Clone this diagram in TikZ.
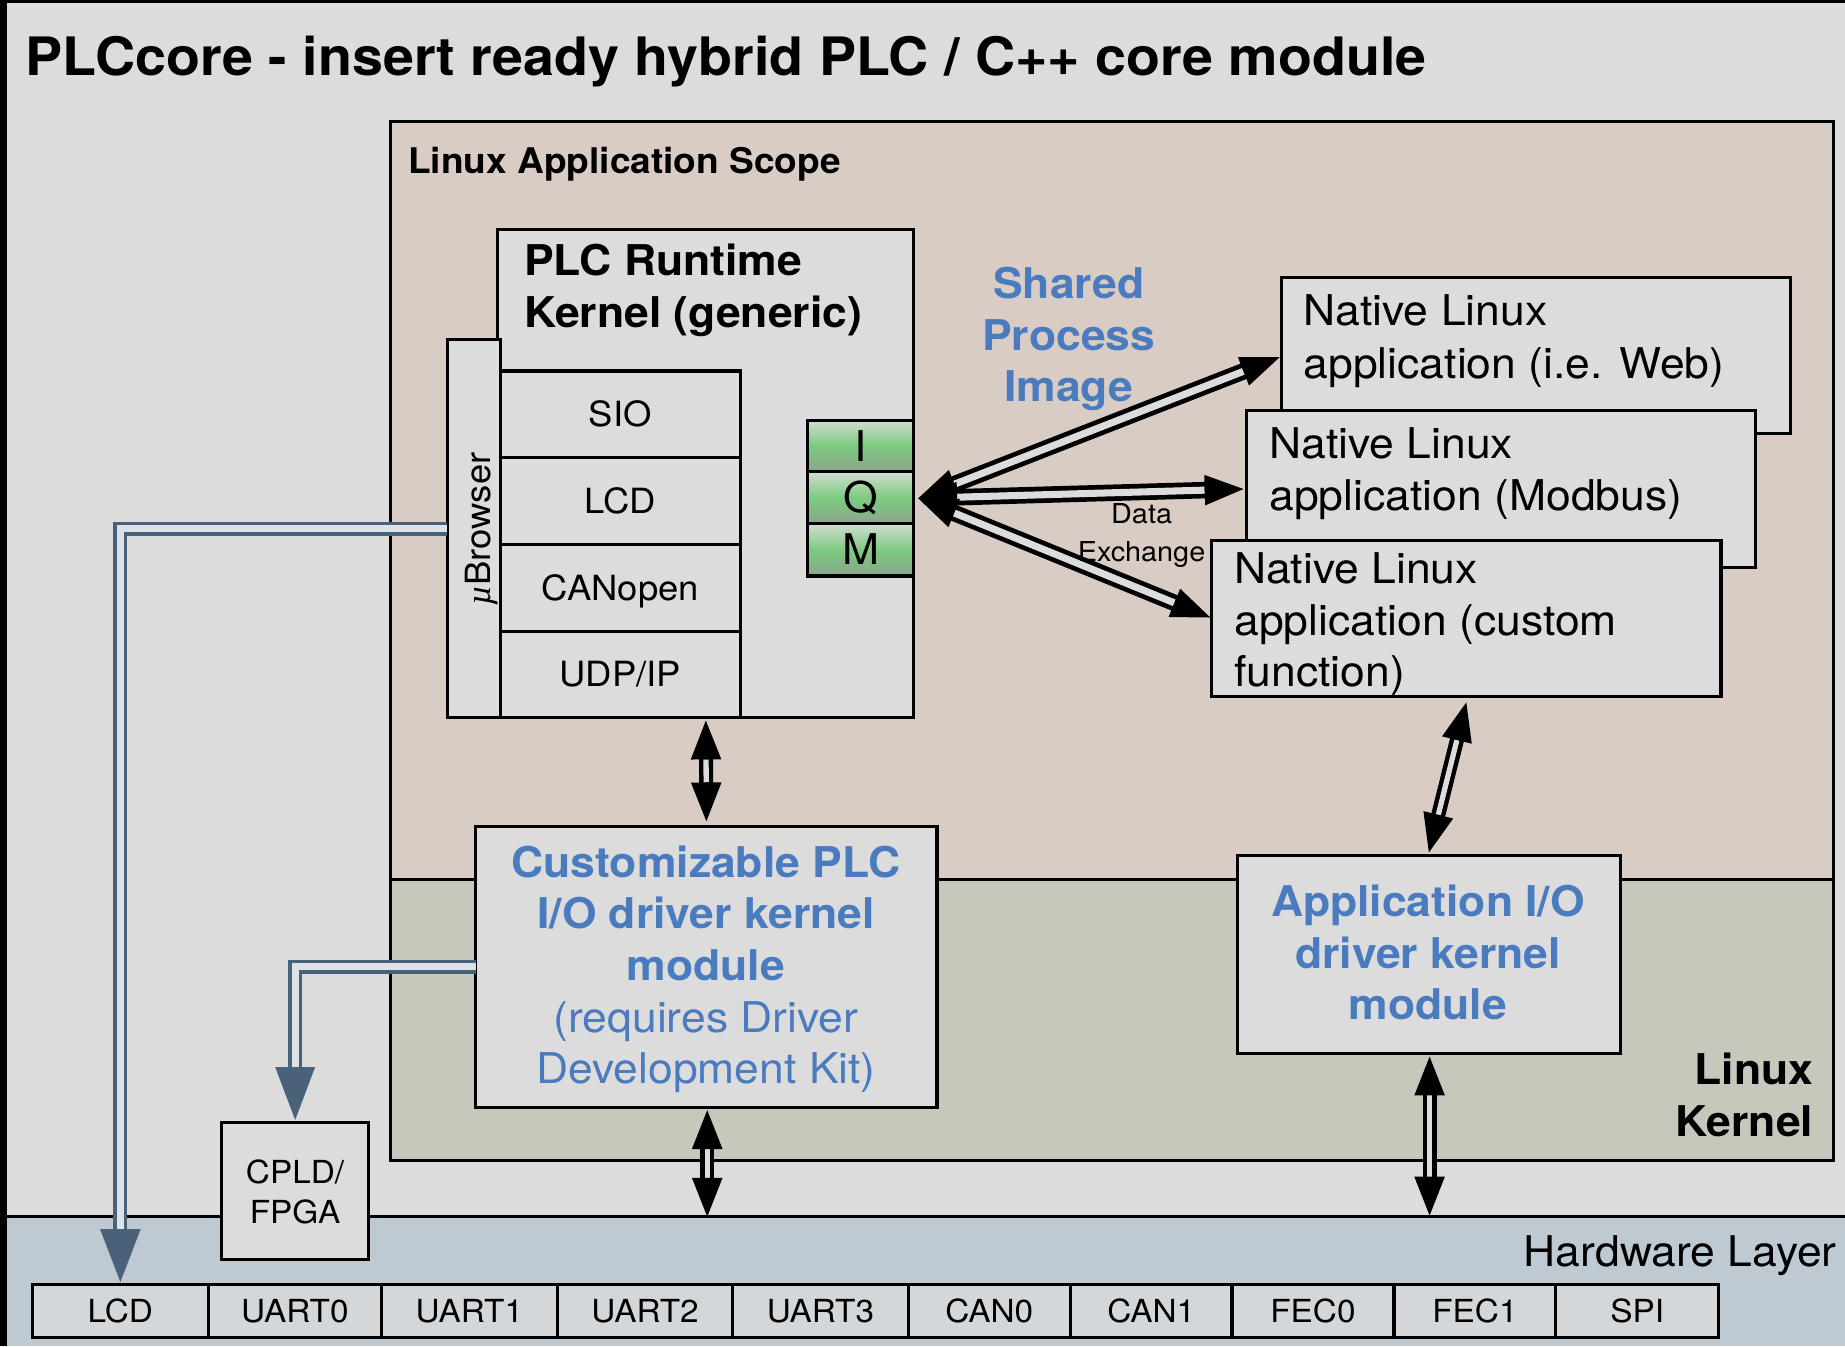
\documentclass[tikz,border=0pt]{standalone}
\usepackage{fontspec}
\setmainfont{TeX Gyre Heros}[FakeStretch=1.05]
\newfontfamily\lserif{Liberation Serif}
\usetikzlibrary{calc}
\definecolor{bgray}{HTML}{DCDCDC}
\definecolor{scopec}{HTML}{D9CCC4}
\definecolor{kernc}{HTML}{C6C8BB}
\definecolor{hwc}{HTML}{BEC9D2}
\definecolor{hwbox}{HTML}{D3D7DA}
\definecolor{blu}{RGB}{75,123,191}
\definecolor{steel}{HTML}{4A6279}
\definecolor{steellight}{HTML}{DCE2E7}
\definecolor{gtop}{HTML}{D2DDD2}
\definecolor{gmid}{HTML}{7CCB80}
\definecolor{gbot}{HTML}{8AA68B}
\definecolor{shaftlight}{HTML}{DCDCDC}
\newcommand{\fs}[1]{\fontsize{#1}{#1}\selectfont}
\tikzset{
  box/.style={draw=black, line width=2.6pt, fill=bgray, inner sep=0pt, outer sep=0pt},
  txt/.style={inner sep=0pt, outer sep=0pt},
  big/.style={txt, font=\fs{36}},
  bigb/.style={txt, font=\fs{36}\bfseries},
  blue/.style={text=blu},
  lbl31/.style={font=\fs{29.5}, text height=21.2pt, text depth=0pt},
  lbl28/.style={font=\fs{27}, text height=19.4pt, text depth=0pt},
  iqm/.style={top color=gtop, bottom color=gbot, middle color=gmid, font=\fs{36}, text height=25.9pt, text depth=0pt},
}
\newcommand{\rbox}[7][]{\node[box,minimum width={#4-#2},minimum height={#5-#3},#1] (#6) at ({(#2+#4)/2},{(#3+#5)/2}) {#7};}
\newcommand{\atip}[5]{\fill[#5] (#1) -- ($(#1)!#3!(#2)!#4!90:(#1)$) -- ($(#1)!#3!(#2)!#4!-90:(#1)$) -- cycle;}
\newcommand{\dblarr}[6]{%
  \draw[line width=#3, black, shorten <=22pt, shorten >=22pt] (#1) -- (#2);
  \draw[line width=#4, shaftlight, shorten <=#5, shorten >=#5] (#1) -- (#2);
  \atip{#1}{#2}{#5}{#6}{black}
  \atip{#2}{#1}{#5}{#6}{black}}
\begin{document}
\begin{tikzpicture}[x=1pt,y=-1pt]
\useasboundingbox (0,0) rectangle (1568,1144);
\fill[black] (0,0) rectangle (1568,1144);
\fill[bgray] (6.2,2.8) rectangle (1568,1144);
% hardware band
\node[fill=hwc, inner sep=0pt, outer sep=0pt, minimum width=1561.8pt, minimum height=110pt] (hw) at (787.1,1089) {};
\draw[line width=2.6pt] (hw.north west) -- (hw.north east);
% layers
\rbox[fill=scopec]{331.5}{103.4}{1558}{747.2}{scope}{}
\rbox[fill=kernc]{331.5}{747.2}{1558}{986.4}{kern}{}
% title & layer labels
\node[txt, anchor=base west, font=\fs{45}\bfseries] (title) at (22,64.5) {PLCcore - insert ready hybrid PLC / C++ core module};
\node[txt, anchor=base west, font=\fs{30}\bfseries] (scopelbl) at (347,147.5) {Linux Application Scope};
\node[bigb, anchor=base east] (lk1) at (1541,921.6) {Linux};
\node[bigb, anchor=base east] (lk2) at (1541,966.1) {Kernel};
\node[big, anchor=base east] (hwl) at (1561,1076.5) {Hardware Layer};
% bottom row
\rbox[fill=hwbox,lbl28]{27.6}{1091.5}{177}{1136.5}{lcdb}{LCD}
\rbox[fill=hwbox,lbl28]{177}{1091.5}{324.2}{1136.5}{u0}{UART0}
\rbox[fill=hwbox,lbl28]{324.2}{1091.5}{473.6}{1136.5}{u1}{UART1}
\rbox[fill=hwbox,lbl28]{473.6}{1091.5}{622.9}{1136.5}{u2}{UART2}
\rbox[fill=hwbox,lbl28]{622.9}{1091.5}{771.7}{1136.5}{u3}{UART3}
\rbox[fill=hwbox,lbl28]{771.7}{1091.5}{909.8}{1136.5}{c0}{CAN0}
\rbox[fill=hwbox,lbl28]{909.8}{1091.5}{1047}{1136.5}{c1}{CAN1}
\rbox[fill=hwbox,lbl28]{1047}{1091.5}{1184.7}{1136.5}{f0}{FEC0}
\rbox[fill=hwbox,lbl28]{1184.7}{1091.5}{1322.3}{1136.5}{f1}{FEC1}
\rbox[fill=hwbox,lbl28]{1322.3}{1091.5}{1460.5}{1136.5}{spi}{SPI}
% CPLD
\rbox{188.4}{953.8}{313.3}{1070}{cpld}{}
\node[txt, anchor=base, font=\fs{27}] (cp1) at (250.8,1006.2) {CPLD/};
\node[txt, anchor=base, font=\fs{27}] (cp2) at (250.8,1039.6) {FPGA};
% PLC runtime
\rbox{423}{195}{776.7}{609.9}{plc}{}
\node[bigb, anchor=base west] (pr1) at (445.4,234) {PLC Runtime};
\node[bigb, anchor=base west] (pr2) at (445.4,278.5) {Kernel (generic)};
\rbox{380}{288.8}{425}{609.9}{ub}{}
\node[txt, rotate=90, anchor=base, font=\fs{29.5}] (ubl) at (416.5,449.5) {{\lserif\itshape µ}Browser};
\rbox[lbl31]{425}{315.3}{629.4}{389}{sio}{SIO}
\rbox[lbl31]{425}{389}{629.4}{463}{lcdm}{LCD}
\rbox[lbl31]{425}{463}{629.4}{536.5}{cano}{CANopen}
\rbox[lbl31]{425}{536.5}{629.4}{609.9}{udp}{UDP/IP}
\rbox[iqm]{686.5}{357}{776.7}{400.8}{iI}{I}
\rbox[iqm]{686.5}{400.8}{776.7}{444.8}{iQ}{Q}
\rbox[iqm]{686.5}{444.8}{776.7}{489.5}{iM}{M}
% shared process image
\node[bigb, blue, anchor=base] (sp1) at (908.3,253.6) {Shared};
\node[bigb, blue, anchor=base] (sp2) at (908.3,297.6) {Process};
\node[bigb, blue, anchor=base] (sp3) at (908.3,341.6) {Image};
% native apps
\rbox{1089}{236}{1522}{368.7}{web}{}
\node[big, anchor=base west] (w1) at (1108,277) {Native Linux};
\node[big, anchor=base west] (w2) at (1108,322) {application (i.e. Web)};
\rbox{1059.4}{348.5}{1492.3}{481.9}{mod}{}
\node[big, anchor=base west] (m1) at (1078.9,389.4) {Native Linux};
\node[big, anchor=base west] (m2) at (1078.9,433.9) {application (Modbus)};
\rbox{1029.7}{459.3}{1462.6}{591.9}{cus}{}
\node[big, anchor=base west] (cu1) at (1049,496.3) {Native Linux};
\node[big, anchor=base west] (cu2) at (1049,540.4) {application (custom};
\node[big, anchor=base west] (cu3) at (1049,583.3) {function)};
% steel arrows
\coordinate (lcdtip) at ($(lcdb.north)+(0,-2)$);
\coordinate (lcdup) at ($(lcdtip)+(0,-100)$);
\draw[steel, line width=3pt, double=steellight, double distance=6pt, shorten >=40pt] (ub.west) -| (lcdtip);
\atip{lcdtip}{lcdup}{45pt}{17.3pt}{steel}
% kernel modules
\rbox{404.4}{702}{796.3}{941.5}{cust}{}
\node[bigb, blue, anchor=base] (k1) at (600,745.4) {Customizable PLC};
\node[bigb, blue, anchor=base] (k2) at (600,789.2) {I/O driver kernel};
\node[bigb, blue, anchor=base] (k3) at (600,832.9) {module};
\node[big, blue, anchor=base] (k4) at (600,877.8) {(requires Driver};
\node[big, blue, anchor=base] (k5) at (600,920.4) {Development Kit)};
\coordinate (cpldtip) at ($(cpld.north)+(0,-2)$);
\coordinate (cpldup) at ($(cpldtip)+(0,-100)$);
\draw[steel, line width=3pt, double=steellight, double distance=6pt, shorten >=40pt] (cust.west) -| (cpldtip);
\atip{cpldtip}{cpldup}{45pt}{17pt}{steel}
\rbox{1051.7}{726.9}{1377}{895}{aio}{}
\node[bigb, blue, anchor=base] (a1t) at (1213.6,778.7) {Application I/O};
\node[bigb, blue, anchor=base] (a2t) at (1213.6,823.2) {driver kernel};
\node[bigb, blue, anchor=base] (a3t) at (1213.6,866.3) {module};
% data exchange arrows
\coordinate (dx) at ($(iQ.east)+(3.7,0.7)$);
\coordinate (webtip) at ($(web.west)+(-1.5,1.2)$);
\coordinate (modtip) at ($(mod.west)+(-2.6,0.4)$);
\coordinate (custip) at ($(cus.west)+(-1.1,-0.8)$);
\dblarr{dx}{webtip}{14pt}{6pt}{33pt}{13pt}
\dblarr{dx}{modtip}{14pt}{6pt}{33pt}{13pt}
\dblarr{dx}{custip}{14pt}{6pt}{33pt}{13pt}
\node[txt, anchor=base, font=\fs{23.3}] (de1) at (970.2,444.7) {Data};
\node[txt, anchor=base, font=\fs{23.3}] (de2) at (970.2,476.8) {Exchange};
% vertical arrows
\coordinate (v1) at ($(plc.south)+(0,2.5)$);
\coordinate (v2) at ($(cust.north)+(0,-4)$);
\dblarr{v1}{v2}{12pt}{4.5pt}{33pt}{13pt}
\coordinate (v3) at ($(cust.south)+(0.7,2)$);
\coordinate (v4) at ($(cust.south |- hw.north)+(0.7,0)$);
\dblarr{v3}{v4}{12pt}{4.5pt}{33pt}{13pt}
\coordinate (v5) at ($(aio.south)+(0.6,3)$);
\coordinate (v6) at ($(aio.south |- hw.north)+(0.6,-1)$);
\dblarr{v5}{v6}{12pt}{4.5pt}{33pt}{13pt}
\coordinate (v7) at ($(cus.south)+(0,5)$);
\coordinate (v8) at ($(aio.north)+(0,-2.4)$);
\dblarr{v7}{v8}{12pt}{4.5pt}{33pt}{13pt}
\end{tikzpicture}
\end{document}
